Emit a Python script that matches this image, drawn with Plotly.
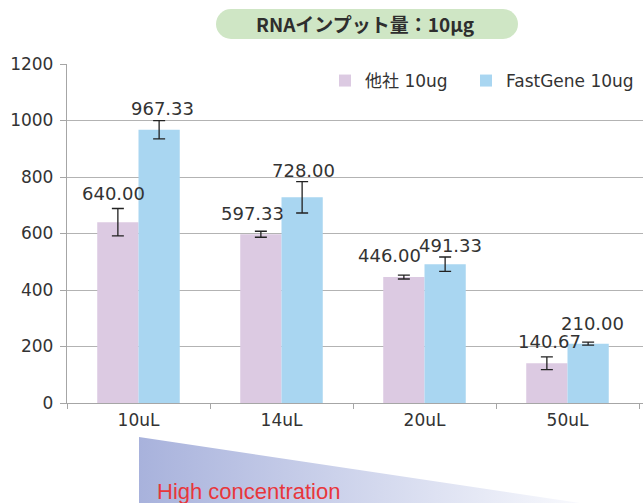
import base64
import plotly.graph_objects as go

# ---- data ----
categories = ["10uL", "14uL", "20uL", "50uL"]
other_vals = [640.00, 597.33, 446.00, 140.67]
other_err = [48.5, 10.6, 7.0, 22.4]
fast_vals = [967.33, 728.00, 491.33, 210.00]
fast_err = [32.5, 55.5, 25.4, 5.3]
series_names = ["他社 10ug", "FastGene 10ug"]
y_ticks = [0, 200, 400, 600, 800, 1000, 1200]
title_text = "RNAインプット量：10μg"
note_text = "High concentration"

# ---- style / layout helpers ----
W, H = 643, 503
ML, MR, MT, MB = 67, 0, 64, 100
PW, PH = W - ML - MR, H - MT - MB
CAT_W = 143.0
BARGAP = 0.423
X_RANGE = [-0.5, -0.5 + PW / CAT_W]

PINK = "#dccae2"
BLUE = "#a9d6f1"
TXT = "#333333"
GRID = "#b3b3b3"
NUM_FONT = "DejaVu Sans, Noto Sans CJK JP"


def px_x(px):
    return (px - ML) / PW


def px_y(py):
    return (H - MB - py) / PH


fig = go.Figure()
for name, vals, errs, color, leg in [
    (series_names[0], other_vals, other_err, PINK, "legend"),
    (series_names[1], fast_vals, fast_err, BLUE, "legend2"),
]:
    fig.add_trace(go.Bar(
        name=name, x=categories, y=vals, marker=dict(color=color, line=dict(width=0)),
        error_y=dict(type="data", array=errs, visible=True, color="#222222",
                     thickness=1.3, width=6),
        legend=leg,
    ))

# data labels (offsets in px relative to bar centre / bar top)
half = (1 - BARGAP) / 4
label_dx = [[-4, -8, -14, 3], [3, 1, 5, 4]]
label_dy = [[-29, -21, -22, -22], [-21, -27, -19, -20]]
annotations = []
for s, vals in enumerate([other_vals, fast_vals]):
    for i, v in enumerate(vals):
        annotations.append(dict(
            x=i + (-half if s == 0 else half), y=v, xref="x", yref="y",
            text=f"{v:.2f}", showarrow=False, xanchor="center", yanchor="middle",
            xshift=label_dx[s][i], yshift=-label_dy[s][i],
            font=dict(family=NUM_FONT, size=18, color=TXT),
        ))

annotations.append(dict(
    x=px_x(365), y=px_y(24), xref="paper", yref="paper", text=title_text,
    showarrow=False, xanchor="center", yanchor="middle",
    font=dict(family="Noto Sans CJK JP", size=19, color="#2e2e2e", weight="bold"),
))
annotations.append(dict(
    x=px_x(155), y=px_y(491), xref="paper", yref="paper", text=note_text,
    showarrow=False, xanchor="left", yanchor="middle",
    font=dict(family="Liberation Sans, Arial", size=22, color="#e8363b"),
))

svg = f'''<svg xmlns="http://www.w3.org/2000/svg" width="{W}" height="{H}" viewBox="0 0 {W} {H}" preserveAspectRatio="none">
<defs><linearGradient id="g" x1="0" y1="0" x2="1" y2="0">
<stop offset="0" stop-color="#a8b2dc"/><stop offset="1" stop-color="#f8f9fd"/></linearGradient></defs>
<rect x="216" y="9" width="302" height="30" rx="15" ry="15" fill="#cfe6c5"/>
<polygon points="139,437 139,{H} 580,{H}" fill="url(#g)"/>
</svg>'''
src = "data:image/svg+xml;base64," + base64.b64encode(svg.encode("utf-8")).decode("ascii")

legend_style = dict(orientation="h", xanchor="left", yanchor="middle",
                    font=dict(family=NUM_FONT, size=17, color=TXT),
                    bgcolor="rgba(0,0,0,0)")

fig.update_layout(
    width=W, height=H,
    margin=dict(l=ML, r=MR, t=MT, b=MB, pad=0),
    paper_bgcolor="white", plot_bgcolor="rgba(0,0,0,0)",
    barmode="group", bargap=BARGAP, bargroupgap=0,
    font=dict(family=NUM_FONT, size=16, color=TXT),
    showlegend=True,
    legend=dict(x=px_x(325), y=px_y(81), **legend_style),
    legend2=dict(x=px_x(466), y=px_y(81), **legend_style),
    annotations=annotations,
    images=[dict(source=src, xref="paper", yref="paper", x=px_x(0), y=px_y(0),
                 sizex=W / PW, sizey=H / PH, xanchor="left", yanchor="top",
                 sizing="stretch", layer="below")],
    xaxis=dict(type="category", range=X_RANGE, showgrid=False, showline=True,
               linecolor="#a6a6a6", linewidth=1.3, ticks="outside", tickson="boundaries",
               ticklen=5, tickcolor="#a6a6a6", tickfont=dict(family=NUM_FONT, size=17, color=TXT),
               ticklabelstandoff=1, zeroline=False, fixedrange=True),
    yaxis=dict(range=[0, 1200], tickvals=y_ticks, showgrid=True, gridcolor=GRID, gridwidth=1.2,
               showline=True, linecolor="#a6a6a6", linewidth=1.3, ticks="outside", ticklen=6,
               tickcolor="#a6a6a6", tickfont=dict(family=NUM_FONT, size=17, color=TXT),
               ticklabelstandoff=3, zeroline=False, fixedrange=True),
)

fig.write_html(
    "out.html",
    config={"displayModeBar": False},
    post_script="document.body.style.margin='0px';document.body.style.padding='0px';",
)
